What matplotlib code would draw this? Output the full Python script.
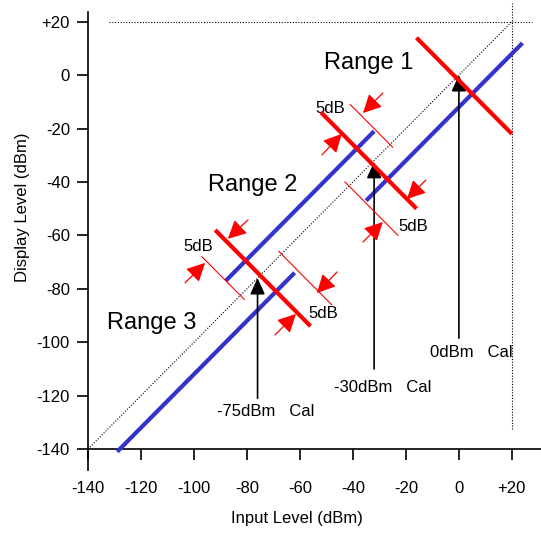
import matplotlib
matplotlib.use("Agg")
import matplotlib.pyplot as plt

plt.rcParams['font.family'] = ['Liberation Sans', 'DejaVu Sans']

# axis ticks
ticks = [-140, -120, -100, -80, -60, -40, -20, 0, 20]
tick_labels = ["-140", "-120", "-100", "-80", "-60", "-40", "-20", "0", "+20"]

# blue lines: y = x + offset, from x0 to x1
blue_x0 = [-88, -35, -129]
blue_x1 = [-32, 24, -62]
blue_off = [11, -12, -12]

# thick red lines: x + y = s
red_s = [-2, -66, -150]
red_x0 = [-16, -52, -92]
red_x1 = [20, -16, -56]

# thin red 5dB marker lines: x + y = s
thin_s = [-52, -83, -165, -134]
thin_x0 = [-41, -43, -97, -68]
thin_x1 = [-25, -23, -81, -48]

# small red arrows (tail -> tip)
arr_tail = [(-28.7, -6.7), (-51.7, -29.9), (-12.5, -39.3), (-36.2, -62.5),
            (-79.6, -54.2), (-103.4, -77.8), (-46.0, -73.7), (-69.4, -97.3)]
arr_tip = [(-36.2, -14.2), (-44.2, -22.0), (-19.6, -46.4), (-28.7, -55.0),
           (-87.2, -61.3), (-95.8, -70.3), (-53.6, -81.6), (-61.5, -89.4)]

db_labels_xy = [(-48.7, -12.6), (-17.4, -56.5), (-98.5, -64.0), (-51.3, -89.4)]

# calibration arrows
cal_x = [0, -32, -76]
cal_tip = [0, -32.5, -76]
cal_bottom = [-98.5, -110, -121]
cal_text = ["0dBm   Cal", "-30dBm   Cal", "-75dBm   Cal"]
cal_text_xy = [(-10.9, -104), (-47.2, -116.8), (-91.3, -126.1)]

range_names = ["Range 1", "Range 2", "Range 3"]
range_xy = [(-34, 4.6), (-77.7, -41), (-116, -93)]

fig = plt.figure(figsize=(5.41, 5.36), dpi=100)
ax = fig.add_axes([0.1627, 0.1224, 0.8373, 0.877])
ax.set_xlim(-140, 31)
ax.set_ylim(-148, 28)

# dotted reference lines
dot = dict(color='black', lw=0.8, ls=(0, (1, 1.5)))
ax.plot([-140, 20], [-140, 20], **dot)
ax.plot([-132, 27.5], [20, 20], **dot)
ax.plot([20, 20], [-132.5, 27], **dot)

for x0, x1, off in zip(blue_x0, blue_x1, blue_off):
    ax.plot([x0, x1], [x0 + off, x1 + off], color='#3333CC', lw=3.0,
            solid_capstyle='butt', zorder=3)

for s, x0, x1 in zip(red_s, red_x0, red_x1):
    ax.plot([x0, x1], [s - x0, s - x1], color='#FF0000', lw=3.0,
            solid_capstyle='butt', zorder=4)

for s, x0, x1 in zip(thin_s, thin_x0, thin_x1):
    ax.plot([x0, x1], [s - x0, s - x1], color='#FF0000', lw=0.8, zorder=4)

for t, h in zip(arr_tail, arr_tip):
    ax.annotate("", xy=h, xytext=t,
                arrowprops=dict(arrowstyle="-|>,head_length=0.75,head_width=0.38",
                                mutation_scale=15, color='#FF0000', lw=0.9,
                                shrinkA=0, shrinkB=0), zorder=5)

for x, y in db_labels_xy:
    ax.text(x, y, "5dB", fontsize=12, ha='center', va='center')

for x, tip, bot in zip(cal_x, cal_tip, cal_bottom):
    ax.annotate("", xy=(x, tip), xytext=(x, bot),
                arrowprops=dict(arrowstyle="-|>,head_length=0.7,head_width=0.32",
                                mutation_scale=14, color='black', lw=1.2,
                                shrinkA=0, shrinkB=0), zorder=3)

for txt, (x, y) in zip(cal_text, cal_text_xy):
    ax.text(x, y, txt, fontsize=12, ha='left', va='center')

for name, (x, y) in zip(range_names, range_xy):
    ax.text(x, y, name, fontsize=17, ha='center', va='center')

# axes styling
ax.spines['top'].set_visible(False)
ax.spines['right'].set_visible(False)
ax.spines['bottom'].set_position(('data', -140))
ax.spines['bottom'].set_bounds(-140, 31)
ax.spines['left'].set_bounds(-148, 23.5)
for sp in ('left', 'bottom'):
    ax.spines[sp].set_linewidth(1.2)

ax.set_xticks(ticks)
ax.set_xticklabels(tick_labels)
ax.set_yticks(ticks)
ax.set_yticklabels(tick_labels)
ax.tick_params(axis='x', direction='out', length=8, width=1.2, pad=15, labelsize=12)
ax.tick_params(axis='y', direction='out', length=8, width=1.2, pad=5, labelsize=12)

ax.text(0.461, -0.1013, "Input Level (dBm)", transform=ax.transAxes,
        fontsize=12, ha='center', va='center')
ax.text(-0.1457, 0.5604, "Display Level (dBm)", transform=ax.transAxes,
        fontsize=12, ha='center', va='center', rotation=90)

fig.savefig("out.png", dpi=100)
